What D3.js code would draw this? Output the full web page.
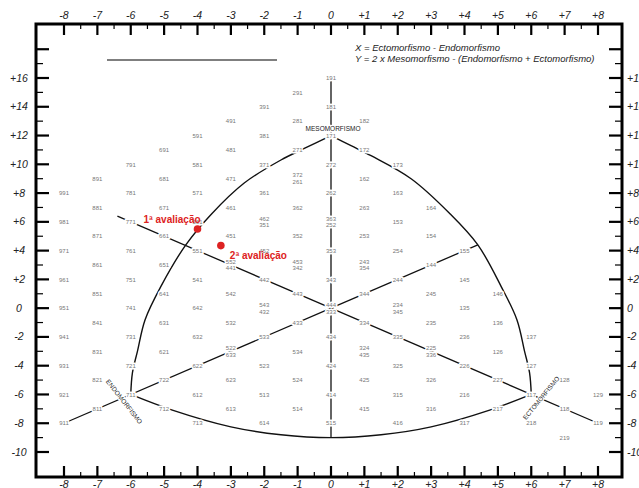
<!DOCTYPE html>
<html><head><meta charset="utf-8">
<script src="https://cdn.jsdelivr.net/npm/d3@7"></script>
<style>body{margin:0;background:#fff}svg{display:block}</style>
</head><body>
<svg id="c" width="639" height="488"></svg>
<script>
// ---- data ----
const xTicks = [-8,-7,-6,-5,-4,-3,-2,-1,0,1,2,3,4,5,6,7,8];
const yTicks = [16,14,12,10,8,6,4,2,0,-2,-4,-6,-8,-10];
const singleCodes = [
 "191","291","391","181","491","281","182","591","381","171",
 "691","481","271","172","791","581","371","272","173",
 "891","681","471","162","991","781","571","361","262","163",
 "881","671","461","362","263","164","981","771","561","153",
 "871","661","451","352","253","154","971","761","551","452","353","254","155",
 "861","651","144","961","751","541","442","343","244","145",
 "851","641","542","443","344","245","146","951","741","642","135",
 "841","631","532","433","334","235","136","941","731","632","533","434","335","236","137",
 "831","621","534","126","931","721","622","523","424","325","226","127",
 "821","722","623","524","425","326","227","128",
 "921","711","612","513","414","315","216","117","129",
 "811","712","613","514","415","316","217","118",
 "911","713","614","515","416","317","218","119","219"
];
const pairedCodes = ["372/261","462/351","363/252","552/441","453/342","243/354",
 "543/432","444/333","234/345","522/633","324/435","225/336"];
const axisLines = [
 [[0,16],[0,-9]],
 [[0,0],[-8,-8]],
 [[0,0],[8,-8]],
 [[0,0],[-6.4,6.4]],
 [[0,0],[4.4,4.4]]
];
const arcLeft = [[-6,-6],[-5.95,-4.5],[-5.8,-3],[-5.57,-0.8],[-5.1,1.5],[-4.35,4.4],[-3.6,6.5],[-2.6,8.7],[-1.5,10.3],[-0.8,11.1],[0,12]];
const arcRight = [[6,-6],[5.95,-4.5],[5.8,-3],[5.57,-0.8],[5.1,1.5],[4.4,4.4],[3.55,6.6],[2.4,9.0],[1.2,10.6],[0.6,11.3],[0,12]];
const arcBottom = [[-6,-6],[-4.8,-7.05],[-3,-8.25],[-1.5,-8.8],[0,-9],[1.5,-8.8],[3,-8.25],[4.8,-7.05],[6,-6]];
const evalNames = ["1ª avaliação","2ª avaliação"];
const evalX = [-4.0,-3.3];
const evalY = [5.5,4.35];
const formulaLines = ["X = Ectomorfismo - Endomorfismo","Y = 2 x Mesomorfismo - (Endomorfismo + Ectomorfismo)"];

// ---- drawing ----
const svg = d3.select("#c");
const x = d3.scaleLinear().domain([-8,8]).range([64,598]);
const y = d3.scaleLinear().domain([-10,16]).range([452,78]);
const L=36,R=622,T=24,B=477;
const pos = c => { const a=+c[0],b=+c[1],e=+c[2]; return [e-a, 2*b-(a+e)]; };

// ticks
const g = svg.append("g").attr("stroke","#000");
d3.range(-8,8.01,0.5).forEach(v=>{
  const maj = Number.isInteger(v);
  g.append("line").attr("x1",x(v)).attr("x2",x(v)).attr("y1",T).attr("y2",T+(maj?11:5)).attr("stroke-width",maj?2.2:1.2);
  g.append("line").attr("x1",x(v)).attr("x2",x(v)).attr("y1",B).attr("y2",B-(maj?11:5)).attr("stroke-width",maj?2.2:1.2);
});
d3.range(-10,19).forEach(v=>{
  const maj = v%2===0;
  g.append("line").attr("y1",y(v)).attr("y2",y(v)).attr("x1",L).attr("x2",L+(maj?13:7)).attr("stroke-width",maj?2.2:1.2);
  g.append("line").attr("y1",y(v)).attr("y2",y(v)).attr("x1",R).attr("x2",R-(maj?13:7)).attr("stroke-width",maj?2.2:1.2);
});
svg.append("rect").attr("x",L).attr("y",T).attr("width",R-L).attr("height",B-T)
  .attr("fill","none").attr("stroke","#000").attr("stroke-width",3);

const axFont = {"font-family":"Liberation Sans, Arial, sans-serif","font-size":"10.5px","font-style":"italic","fill":"#222"};
const fmt = v => v>0 ? "+"+v : String(v);
function applyFont(sel,f){Object.entries(f).forEach(([k,v])=>sel.attr(k,v));return sel;}
xTicks.forEach(v=>{
  applyFont(svg.append("text").attr("x",x(v)).attr("y",19).attr("text-anchor","middle").text(fmt(v)),axFont);
  applyFont(svg.append("text").attr("x",x(v)).attr("y",488).attr("text-anchor","middle").text(fmt(v)),axFont);
});
yTicks.forEach(v=>{
  applyFont(svg.append("text").attr("x",19).attr("y",y(v)+3.5).attr("text-anchor","middle").text(fmt(v)),axFont);
  applyFont(svg.append("text").attr("x",627).attr("y",y(v)+3.5).attr("text-anchor","start").text(fmt(v)),axFont);
});

// top decoration
svg.append("line").attr("x1",107).attr("x2",277).attr("y1",60).attr("y2",60).attr("stroke","#000").attr("stroke-width",1.2);
formulaLines.forEach((t,i)=>{
  applyFont(svg.append("text").attr("x",355).attr("y",51+i*11).text(t),
    {"font-family":"Liberation Sans, Arial, sans-serif","font-size":"9.5px","font-style":"italic","fill":"#222"});
});

// lines & arcs
const lineGen = d3.line().x(d=>x(d[0])).y(d=>y(d[1]));
axisLines.forEach(l=>svg.append("path").attr("d",lineGen(l)).attr("stroke","#111").attr("stroke-width",1.3).attr("fill","none"));
const curveGen = d3.line().x(d=>x(d[0])).y(d=>y(d[1])).curve(d3.curveCatmullRom.alpha(0.5));
[arcLeft,arcRight,arcBottom].forEach(a=>svg.append("path").attr("d",curveGen(a)).attr("stroke","#111").attr("stroke-width",1.4).attr("fill","none"));

// code labels
const lab = svg.append("g").attr("font-family","Liberation Sans, Arial, sans-serif").attr("font-size","6px")
  .attr("fill","#777").attr("text-anchor","middle")
  .attr("stroke","#fff").attr("stroke-width",3).attr("paint-order","stroke").attr("stroke-linejoin","round");
singleCodes.forEach(c=>{ const p=pos(c); lab.append("text").attr("x",x(p[0])).attr("y",y(p[1])+2.2).text(c); });
pairedCodes.forEach(pc=>{ const [a,b]=pc.split("/"); const p=pos(a);
  lab.append("text").attr("x",x(p[0])).attr("y",y(p[1])-1.2).text(a);
  lab.append("text").attr("x",x(p[0])).attr("y",y(p[1])+5.4).text(b);
});

// component names
const nameFont = {"font-family":"Liberation Sans, Arial, sans-serif","font-size":"6.5px","fill":"#222","text-anchor":"middle","stroke":"#fff","stroke-width":2.5,"paint-order":"stroke"};
applyFont(svg.append("text").attr("x",x(0)+2).attr("y",y(12)-5).text("MESOMORFISMO"),nameFont);
applyFont(svg.append("text").attr("transform",`translate(${x(-6.25)},${y(-6.6)}) rotate(52)`).text("ENDOMORFISMO"),nameFont);
applyFont(svg.append("text").attr("transform",`translate(${x(6.35)},${y(-6.35)}) rotate(-51)`).text("ECTOMORFISMO"),nameFont);

// evaluations
const red = "#dd2222";
evalNames.forEach((n,i)=>{
  svg.append("circle").attr("cx",x(evalX[i])).attr("cy",y(evalY[i])).attr("r",3.8).attr("fill",red);
});
svg.append("text").attr("x",x(evalX[0])-54).attr("y",y(evalY[0])-6).text(evalNames[0])
  .attr("font-family","Liberation Sans, Arial, sans-serif").attr("font-size","10px").attr("font-weight","bold").attr("fill",red);
svg.append("text").attr("x",x(evalX[1])+9).attr("y",y(evalY[1])+13).text(evalNames[1])
  .attr("font-family","Liberation Sans, Arial, sans-serif").attr("font-size","10px").attr("font-weight","bold").attr("fill",red);
</script>
</body></html>
